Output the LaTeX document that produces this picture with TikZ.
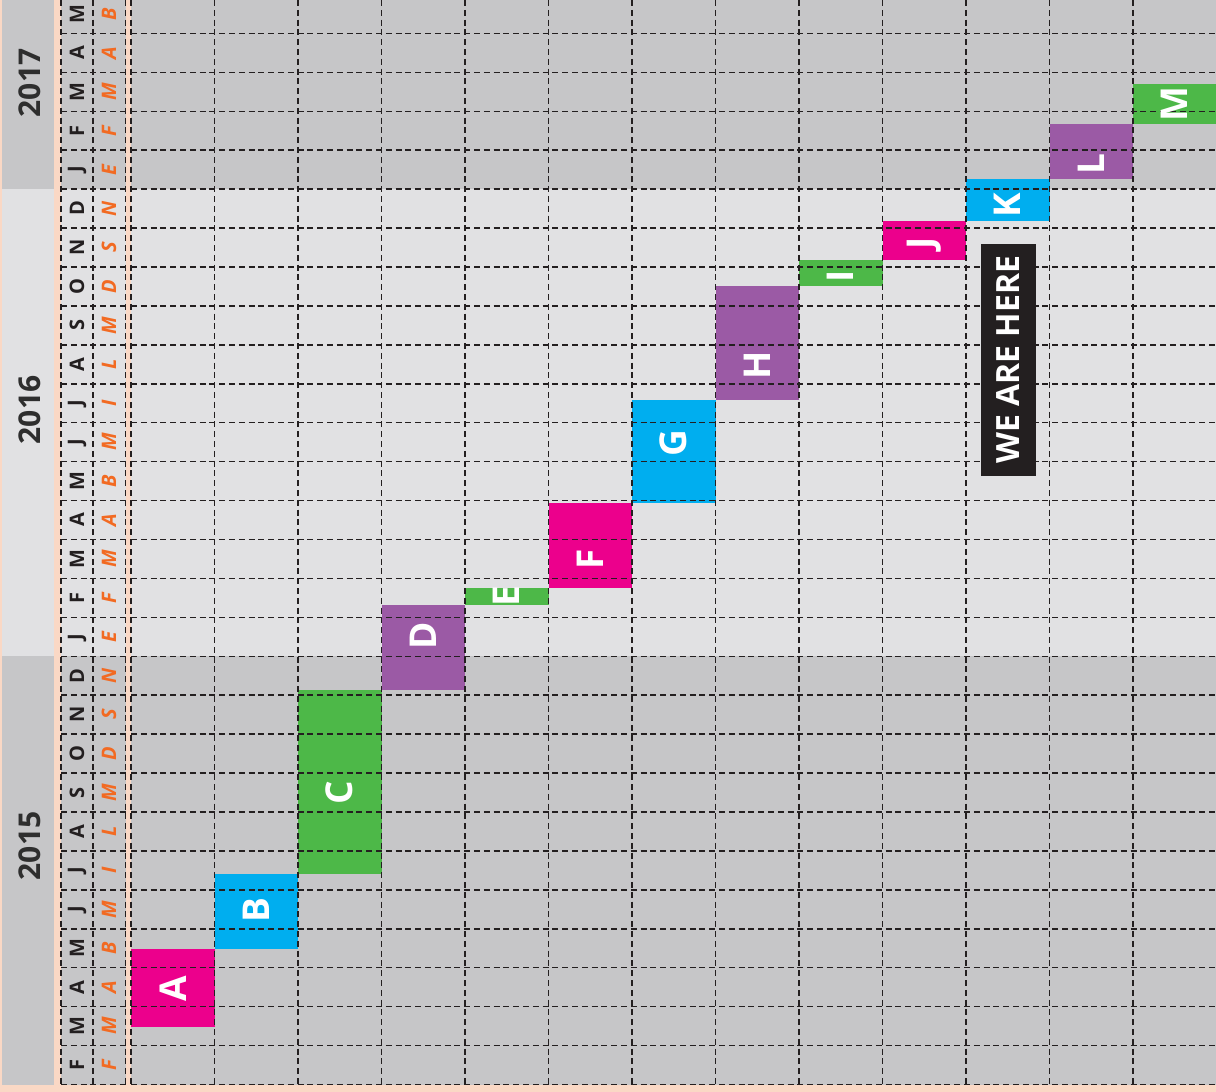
\documentclass[tikz,border=0pt]{standalone}
\usepackage{fontspec}
\setmainfont{Open Sans}
\usetikzlibrary{positioning}

\definecolor{peach}{HTML}{FAD8C5}
\definecolor{darkrow}{HTML}{C6C6C8}
\definecolor{lightrow}{HTML}{E1E1E3}
\definecolor{barmagenta}{HTML}{EC008C}
\definecolor{barcyan}{HTML}{00AEEF}
\definecolor{bargreen}{HTML}{4DB848}
\definecolor{barpurple}{HTML}{9B5AA5}
\definecolor{irishorange}{HTML}{F26A22}
\definecolor{inkblack}{HTML}{231F20}

\begin{document}
\begin{tikzpicture}[x=1pt, y=-1pt, font=\bfseries,
  gridline/.style={draw=inkblack, line width=1.5pt, dash pattern=on 6pt off 3.8pt},
  monthlbl/.style={rotate=90, inner sep=0pt, text=inkblack,
                   font=\bfseries\fontsize{20}{20}\selectfont},
  irishlbl/.style={monthlbl, text=irishorange,
                   font=\bfseries\itshape\fontsize{20}{20}\selectfont},
  yearlbl/.style={rotate=90, inner sep=0pt, text=black!82,
                  font=\bfseries\fontsize{30}{30}\selectfont},
  taskbar/.style={rotate=90, inner sep=0pt, minimum height=83.5pt},
  tasklbl/.style={rotate=90, inner sep=0pt, text=white,
                  font=\bfseries\fontsize{37}{37}\selectfont},
  herebox/.style={rotate=90, fill=inkblack, text=white, inner sep=0pt,
                  minimum width=231.7pt, minimum height=55pt,
                  font=\bfseries\fontsize{32}{32}\selectfont}]
  \useasboundingbox (0,0) rectangle (1216,1092);
  \fill[peach] (0,0) rectangle (1216,1092);

  % year bands
  \foreach \ya/\yb/\col in {0/189.1/darkrow, 189.1/656.3/lightrow, 656.3/1084.5/darkrow} {
    \fill[\col] (2,\ya) rectangle (54,\yb);
    \fill[\col] (61,\ya) rectangle (125.5,\yb);
    \fill[\col] (131,\ya) rectangle (1216,\yb);
  }
  \node[yearlbl] (y2015) at (30,846) {2015};
  \node[yearlbl] (y2016) at (30,410) {2016};
  \node[yearlbl] (y2017) at (30,83) {2017};

  % tasks: column / start row / end row / colour / name
  \foreach \c/\ka/\kb/\col/\lbl in {0/1.49/3.48/barmagenta/A, 1/3.48/5.41/barcyan/B,
      2/5.41/10.13/bargreen/C, 3/10.13/12.31/barpurple/D, 4/12.31/12.76/bargreen/E,
      5/12.76/14.95/barmagenta/F, 6/14.95/17.58/barcyan/G, 7/17.58/20.50/barpurple/H,
      8/20.50/21.19/bargreen/I, 9/21.19/22.17/barmagenta/J, 10/22.17/23.26/barcyan/K,
      11/23.26/24.68/barpurple/L, 12/24.68/25.69/bargreen/M} {
    \node[taskbar, fill=\col, minimum width={(\kb-\ka)*38.93pt}] (bar-\lbl)
      at ({172.75+\c*83.5}, {1084.5-(\ka+\kb)/2*38.93}) {};
  }

  % grid
  \foreach \k in {0,...,27} {
    \draw[gridline] (61,{1084.5-\k*38.93}) -- (125.5,{1084.5-\k*38.93});
    \draw[gridline] (131,{1084.5-\k*38.93}) -- (1216,{1084.5-\k*38.93});
  }
  \foreach \x in {61,93,125.5}
    \draw[gridline] (\x,0) -- (\x,1084.5);
  \foreach \c in {0,...,12}
    \draw[gridline] ({131+\c*83.5},0) -- ({131+\c*83.5},1084.5);

  % task letters
  \foreach \lbl/\dy in {A/1, B/-1, C/11, D/-12, E/0, F/14, G/-8, H/22, I/3, J/3, K/5, L/13, M/0}
    \node[tasklbl] (lbl-\lbl) at ([shift={(0,\dy)}]bar-\lbl.center) {\makebox[0pt]{\lbl}};

  % months, English and Irish
  \foreach \m/\g [count=\k from 0] in {F/F, M/M, A/A, M/B, J/M, J/I, A/L, S/M, O/D, N/S,
      D/N, J/E, F/F, M/M, A/A, M/B, J/M, J/I, A/L, S/M, O/D, N/S, D/N, J/E, F/F, M/M,
      A/A, M/B} {
    \node[monthlbl] (m-\k) at (77,{1084.5-(\k+0.5)*38.93}) {\m};
    \node[irishlbl] (g-\k) at (109,{1084.5-(\k+0.5)*38.93}) {\g};
  }

  \node[herebox] (here) at (1008.5,359.9) {WE ARE HERE};
\end{tikzpicture}
\end{document}
